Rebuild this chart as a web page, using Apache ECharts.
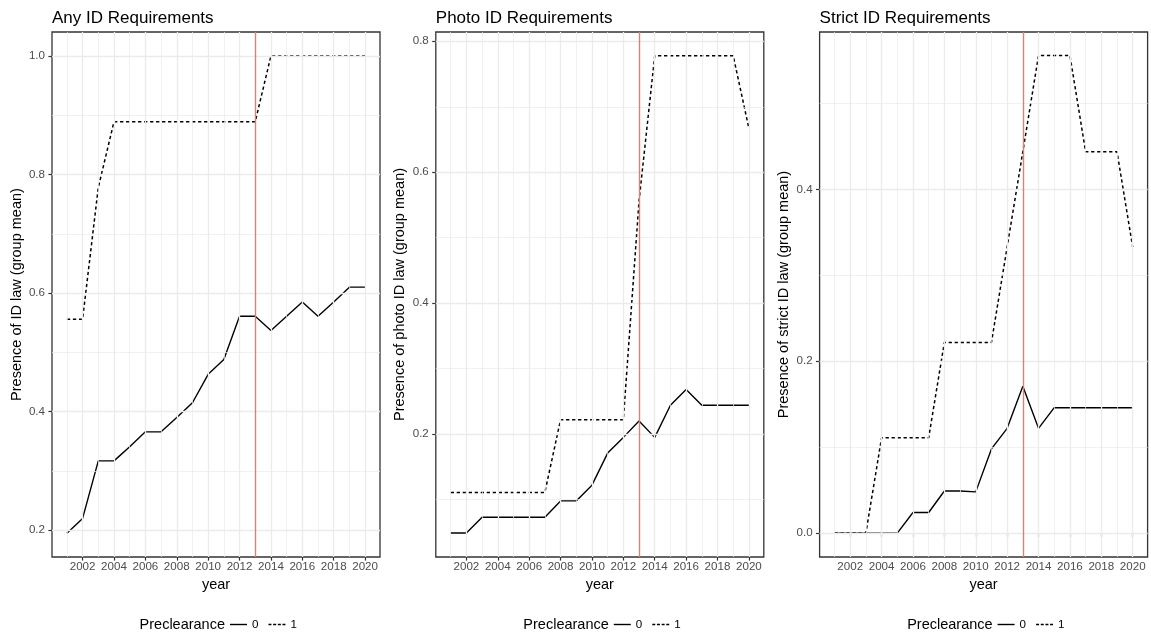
<!DOCTYPE html>
<html>
<head>
<meta charset="utf-8">
<script src="https://cdn.jsdelivr.net/npm/echarts@6/dist/echarts.min.js"></script>
<style>
  html, body { margin: 0; padding: 0; background: #ffffff; }
  #chart { width: 1151px; height: 637px; }
</style>
</head>
<body>
<div id="chart"></div>
<script>
// ---------------- data ----------------
const years = [2001, 2002, 2003, 2004, 2005, 2006, 2007, 2008, 2009, 2010,
               2011, 2012, 2013, 2014, 2015, 2016, 2017, 2018, 2019, 2020];

const panelTitles = ['Any ID Requirements', 'Photo ID Requirements', 'Strict ID Requirements'];
const yAxisTitles = ['Presence of ID law (group mean)',
                     'Presence of photo ID law (group mean)',
                     'Presence of strict ID law (group mean)'];
const seriesNames = ['0', '1'];
const legendTitle = 'Preclearance';
const xAxisTitle = 'year';
const cutoffYear = 2013;

// Any ID: preclearance 0 (solid) / 1 (dashed)
const anyId0 = [0.195, 0.220, 0.317, 0.317, 0.341, 0.366, 0.366, 0.390, 0.415, 0.463,
                0.488, 0.561, 0.561, 0.537, 0.561, 0.585, 0.561, 0.585, 0.610, 0.610];
const anyId1 = [0.556, 0.556, 0.778, 0.889, 0.889, 0.889, 0.889, 0.889, 0.889, 0.889,
                0.889, 0.889, 0.889, 1.000, 1.000, 1.000, 1.000, 1.000, 1.000, 1.000];
// Photo ID
const photoId0 = [0.049, 0.049, 0.073, 0.073, 0.073, 0.073, 0.073, 0.098, 0.098, 0.122,
                  0.171, 0.195, 0.220, 0.195, 0.244, 0.268, 0.244, 0.244, 0.244, 0.244];
const photoId1 = [0.111, 0.111, 0.111, 0.111, 0.111, 0.111, 0.111, 0.222, 0.222, 0.222,
                  0.222, 0.222, 0.556, 0.778, 0.778, 0.778, 0.778, 0.778, 0.778, 0.667];
// Strict ID
const strictId0 = [0.000, 0.000, 0.000, 0.000, 0.000, 0.024, 0.024, 0.049, 0.049, 0.048,
                   0.098, 0.122, 0.171, 0.122, 0.146, 0.146, 0.146, 0.146, 0.146, 0.146];
const strictId1 = [0.000, 0.000, 0.000, 0.111, 0.111, 0.111, 0.111, 0.222, 0.222, 0.222,
                   0.222, 0.333, 0.444, 0.556, 0.556, 0.556, 0.444, 0.444, 0.444, 0.333];

// ticks
const xMajorTicks = [2002, 2004, 2006, 2008, 2010, 2012, 2014, 2016, 2018, 2020];
const xMinorTicks = [2001, 2003, 2005, 2007, 2009, 2011, 2013, 2015, 2017, 2019];
const yMajorAny = [0.2, 0.4, 0.6, 0.8, 1.0];
const yMinorAny = [0.3, 0.5, 0.7, 0.9];
const yMajorPhoto = [0.2, 0.4, 0.6, 0.8];
const yMinorPhoto = [0.1, 0.3, 0.5, 0.7];
const yMajorStrict = [0.0, 0.2, 0.4];
const yMinorStrict = [0.1, 0.3, 0.5];

// axis ranges (ggplot 5% expansion)
const xRange = [2000.05, 2020.95];
const yRanges = [[0.1549, 1.0403], [0.0123, 0.8142], [-0.0278, 0.5833]];

// ---------------- layout / style ----------------
const FONT = '"Liberation Sans", Arial, Helvetica, sans-serif';
const panelLeft = [52, 435.8, 819.6];
const panelWidth = 328;
const panelTop = 32;
const panelHeight = 525;
const gridColor = '#EBEBEB';
const cutoffColor = '#F47A55';

// legend key glyphs (line segments)
const solidIcon = 'path://M0,0 L17,0 L17,1.4 L0,1.4 Z';
const dashedIcon = 'path://M0,0 L3,0 L3,1.4 L0,1.4 Z M4.7,0 L7.7,0 L7.7,1.4 L4.7,1.4 Z ' +
                   'M9.4,0 L12.4,0 L12.4,1.4 L9.4,1.4 Z M14,0 L17,0 L17,1.4 L14,1.4 Z';

const panels = [
  { s0: anyId0, s1: anyId1, yMajor: yMajorAny, yMinor: yMinorAny },
  { s0: photoId0, s1: photoId1, yMajor: yMajorPhoto, yMinor: yMinorPhoto },
  { s0: strictId0, s1: strictId1, yMajor: yMajorStrict, yMinor: yMinorStrict }
];

const grids = [], xAxes = [], yAxes = [], series = [], titles = [], legends = [], graphics = [];

const pairs = arr => years.map((y, i) => [y, arr[i]]);

panels.forEach((p, k) => {
  grids.push({
    left: panelLeft[k], top: panelTop, width: panelWidth, height: panelHeight,
    show: true, borderColor: '#333333', borderWidth: 1.3, backgroundColor: '#ffffff',
    containLabel: false
  });
  xAxes.push({
    type: 'value', gridIndex: k, min: xRange[0], max: xRange[1],
    name: xAxisTitle, nameLocation: 'middle', nameGap: 17,
    nameTextStyle: { color: '#000000', fontSize: 14.5, fontFamily: FONT },
    axisLine: { show: false },
    axisTick: { show: true, customValues: xMajorTicks, length: 3.6, inside: false,
                lineStyle: { color: '#333333', width: 1.2 } },
    axisLabel: { customValues: xMajorTicks, margin: 4, color: '#4D4D4D', fontSize: 11.6,
                 fontFamily: FONT, formatter: v => String(Math.round(v)) },
    splitLine: { show: false }
  });
  yAxes.push({
    type: 'value', gridIndex: k, min: yRanges[k][0], max: yRanges[k][1],
    name: yAxisTitles[k], nameLocation: 'middle', nameGap: 28, nameRotate: 90,
    nameTextStyle: { color: '#000000', fontSize: 14.5, fontFamily: FONT },
    axisLine: { show: false },
    axisTick: { show: true, customValues: p.yMajor, length: 3.6,
                lineStyle: { color: '#333333', width: 1.2 } },
    axisLabel: { customValues: p.yMajor, margin: 7, color: '#4D4D4D', fontSize: 11.6,
                 fontFamily: FONT, formatter: v => v.toFixed(1) },
    splitLine: { show: false }
  });

  // gridlines (behind data)
  const gl = [];
  xMinorTicks.forEach(v => gl.push({ xAxis: v, lineStyle: { color: gridColor, width: 0.7, type: 'solid' } }));
  p.yMinor.forEach(v => gl.push({ yAxis: v, lineStyle: { color: gridColor, width: 0.7, type: 'solid' } }));
  xMajorTicks.forEach(v => gl.push({ xAxis: v, lineStyle: { color: gridColor, width: 1.3, type: 'solid' } }));
  p.yMajor.forEach(v => gl.push({ yAxis: v, lineStyle: { color: gridColor, width: 1.3, type: 'solid' } }));
  series.push({
    type: 'line', name: 'grid' + k, xAxisIndex: k, yAxisIndex: k, data: [], z: 1,
    silent: true, animation: false,
    markLine: { silent: true, symbol: ['none', 'none'], label: { show: false },
                animation: false, data: gl }
  });

  series.push({
    type: 'line', name: seriesNames[0], xAxisIndex: k, yAxisIndex: k, data: pairs(p.s0),
    symbol: 'none', showSymbol: false, z: 3, animation: false,
    lineStyle: { color: '#000000', width: 1.4, type: 'solid' },
    itemStyle: { color: '#000000' }
  });
  series.push({
    type: 'line', name: seriesNames[1], xAxisIndex: k, yAxisIndex: k, data: pairs(p.s1),
    symbol: 'none', showSymbol: false, z: 3, animation: false,
    lineStyle: { color: '#000000', width: 1.5, type: [3.3, 2.7] },
    itemStyle: { color: '#000000' },
    markLine: { silent: true, symbol: ['none', 'none'], label: { show: false }, animation: false,
                lineStyle: { color: cutoffColor, width: 1.4, type: 'solid' },
                data: [{ xAxis: cutoffYear }] }
  });

  titles.push({
    text: panelTitles[k], left: panelLeft[k], top: 10, padding: 0,
    textStyle: { color: '#000000', fontSize: 17, fontWeight: 'normal', fontFamily: FONT }
  });

  const lx = panelLeft[k] + 178;
  legends.push({
    left: lx, top: 618.5, orient: 'horizontal', padding: 0,
    itemWidth: 17, itemHeight: 1.4, itemGap: 10,
    data: [{ name: seriesNames[0], icon: solidIcon }, { name: seriesNames[1], icon: dashedIcon }],
    itemStyle: { color: '#000000', borderWidth: 0 },
    textStyle: { color: '#000000', fontSize: 11.6, fontFamily: FONT },
    selectedMode: false
  });
  graphics.push({
    type: 'text', x: lx - 5, y: 625,
    style: { text: legendTitle, textAlign: 'right', textVerticalAlign: 'middle',
             fill: '#000000', fontSize: 14.5, fontFamily: FONT }
  });
});

const chart = echarts.init(document.getElementById('chart'), null, { renderer: 'canvas' });
chart.setOption({
  backgroundColor: '#ffffff',
  animation: false,
  title: titles,
  grid: grids,
  xAxis: xAxes,
  yAxis: yAxes,
  legend: legends,
  graphic: graphics,
  series: series
});
</script>
</body>
</html>
